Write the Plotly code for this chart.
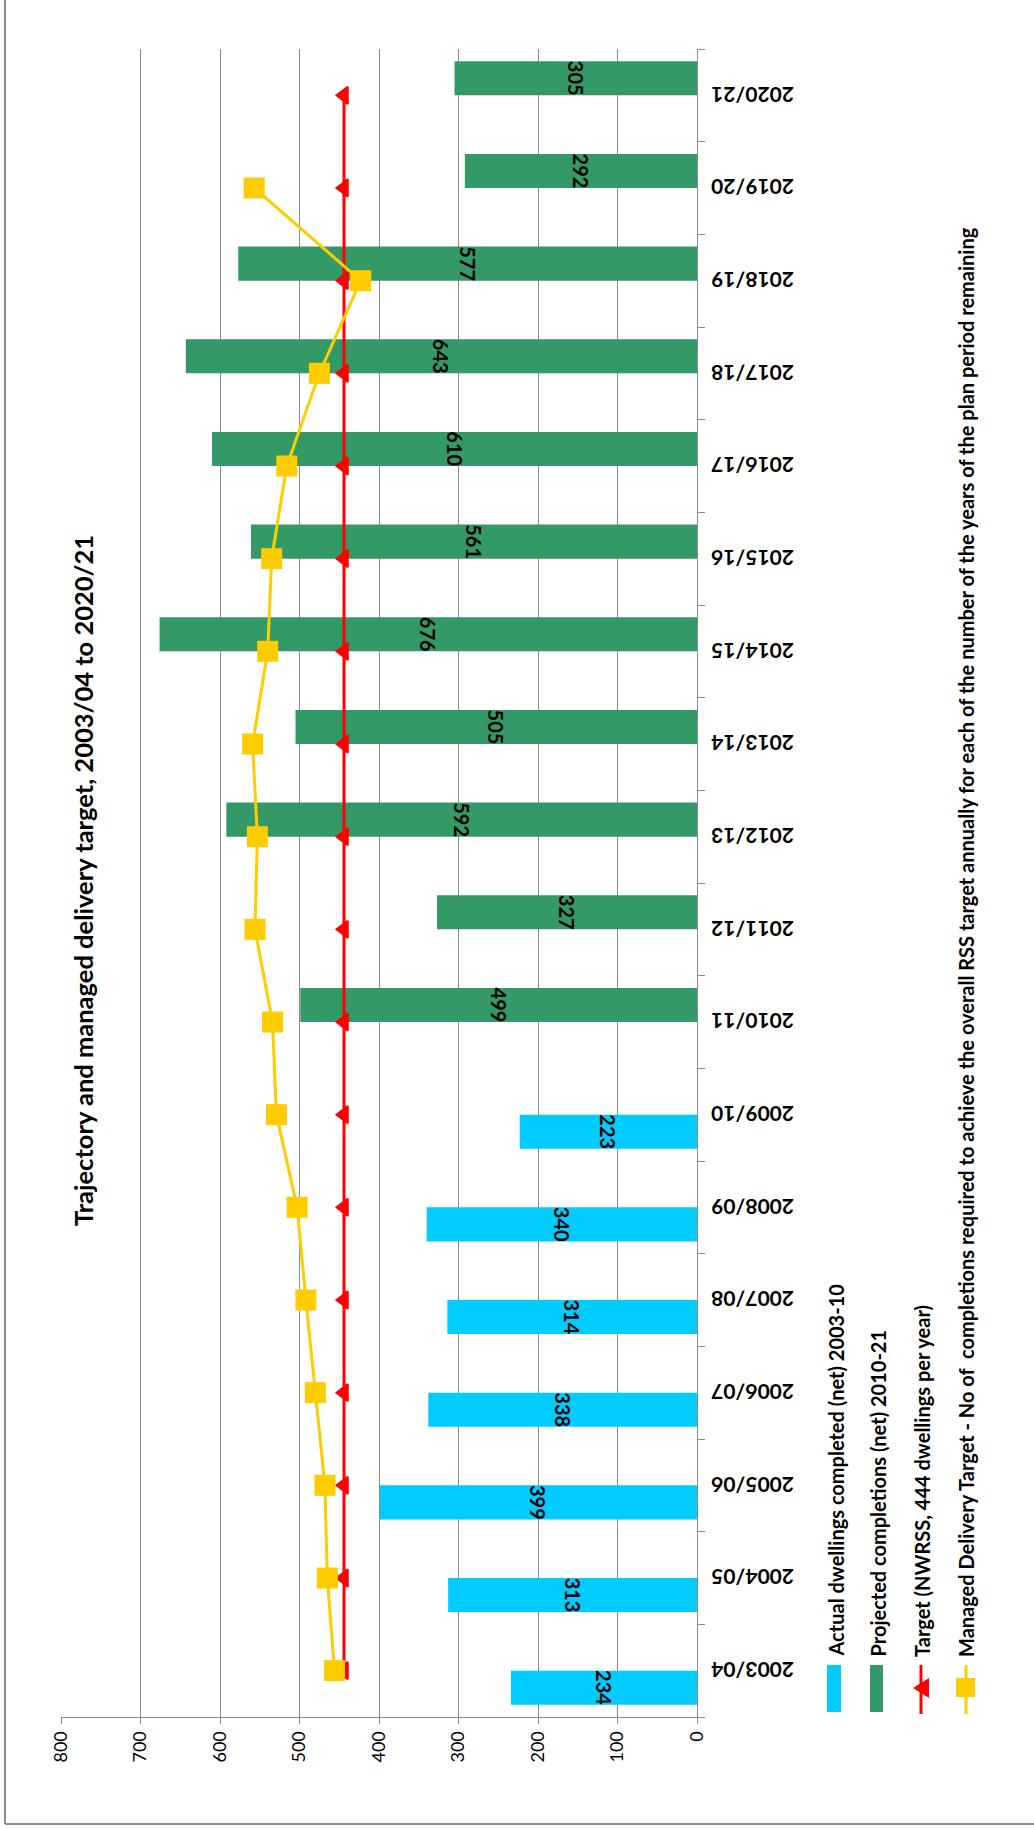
import plotly.graph_objects as go

# ---------------- data ----------------
categories = ["2003/04", "2004/05", "2005/06", "2006/07", "2007/08", "2008/09",
              "2009/10", "2010/11", "2011/12", "2012/13", "2013/14", "2014/15",
              "2015/16", "2016/17", "2017/18", "2018/19", "2019/20", "2020/21"]
actual = [234, 313, 399, 338, 314, 340, 223,
          None, None, None, None, None, None, None, None, None, None, None]
projected = [None, None, None, None, None, None, None,
             499, 327, 592, 505, 676, 561, 610, 643, 577, 292, 305]
target = [444] * 18
managed = [456, 465, 468, 480, 492, 503, 529, 534, 556, 553, 559, 540,
           535, 516, 475, 423, 557, None]
value_ticks = [0, 100, 200, 300, 400, 500, 600, 700, 800]

title_text = "Trajectory and managed delivery target, 2003/04 to 2020/21"
legend_labels = [
    "Actual dwellings completed (net) 2003-10",
    "Projected completions (net) 2010-21",
    "Target (NWRSS, 444 dwellings per year)",
    "Managed Delivery Target - No of  completions required to achieve the overall RSS target annually for each of the number of the years of the plan period remaining",
]

# ---------------- style ----------------
W, H = 1034, 1829
L, R, T, B = 61, 337, 49, 112
PW, PH = W - L - R, H - T - B
FONT = "Lato, 'Open Sans', sans-serif"
BLUE, GREEN, RED, YELLOW = "#00CCFF", "#339966", "#FF0000", "#FFCC00"
GRID = "#8c8c8c"


def px(x):
    return (x - L) / PW


def py(y):
    return (H - B - y) / PH


def txt(v):
    return ["" if a is None else str(a) for a in v]


fig = go.Figure()
fig.add_trace(go.Bar(
    y=categories, x=actual, orientation="h", name=legend_labels[0],
    marker=dict(color=BLUE, line=dict(width=0)),
    text=txt(actual), textposition="inside", insidetextanchor="middle",
    textangle=90, constraintext="none",
    textfont=dict(family=FONT, size=20, color="black", weight="bold"),
))
fig.add_trace(go.Bar(
    y=categories, x=projected, orientation="h", name=legend_labels[1],
    marker=dict(color=GREEN, line=dict(width=0)),
    text=txt(projected), textposition="inside", insidetextanchor="middle",
    textangle=90, constraintext="none",
    textfont=dict(family=FONT, size=20, color="black", weight="bold"),
))
fig.add_trace(go.Scatter(
    y=categories, x=target, mode="lines+markers", name=legend_labels[2],
    line=dict(color=RED, width=3),
    marker=dict(symbol="triangle-left", size=15, color=RED,
                line=dict(color=RED, width=2)),
))
fig.add_trace(go.Scatter(
    y=categories, x=managed, mode="lines+markers", name=legend_labels[3],
    line=dict(color=YELLOW, width=3),
    marker=dict(symbol="square", size=21, color=YELLOW),
))

shapes = []
annotations = []

# category labels, upside down beside the category axis
for c in categories:
    annotations.append(dict(
        text=c, xref="paper", yref="y", x=px(753), y=c,
        xanchor="center", yanchor="middle", textangle=180, showarrow=False,
        font=dict(family=FONT, size=21, color="black", weight="bold"),
    ))

# ---------------- rotated legend (drawn by hand) ----------------
sw_top, sw_bot = 1665, 1712
shapes.append(dict(type="rect", xref="paper", yref="paper",
                   x0=px(827), x1=px(841), y0=py(sw_bot), y1=py(sw_top),
                   fillcolor=BLUE, line=dict(width=0)))
shapes.append(dict(type="rect", xref="paper", yref="paper",
                   x0=px(870), x1=px(883), y0=py(sw_bot), y1=py(sw_top),
                   fillcolor=GREEN, line=dict(width=0)))
shapes.append(dict(type="line", xref="paper", yref="paper",
                   x0=px(921), x1=px(921), y0=py(1714), y1=py(1665),
                   line=dict(color=RED, width=3)))
tri = "M {},{} L {},{} L {},{} Z".format(px(913), py(1688), px(929), py(1678), px(929), py(1698))
shapes.append(dict(type="path", xref="paper", yref="paper", path=tri,
                   fillcolor=RED, line=dict(width=0)))
shapes.append(dict(type="line", xref="paper", yref="paper",
                   x0=px(966), x1=px(966), y0=py(1714), y1=py(1665),
                   line=dict(color=YELLOW, width=3)))
shapes.append(dict(type="rect", xref="paper", yref="paper",
                   x0=px(956), x1=px(975), y0=py(1697), y1=py(1678),
                   fillcolor=YELLOW, line=dict(width=0)))

for label, cx in zip(legend_labels, [835, 877, 922, 966]):
    annotations.append(dict(
        text=label, xref="paper", yref="paper", x=px(cx), y=py(1659),
        xanchor="center", yanchor="bottom", textangle=-90, showarrow=False,
        font=dict(family=FONT, size=20, color="black", weight="bold"),
    ))

annotations.append(dict(
    text=title_text, xref="paper", yref="paper", x=px(83), y=py(881),
    xanchor="center", yanchor="middle", textangle=-90, showarrow=False,
    font=dict(family=FONT, size=25.5, color="black", weight="bold"),
))

# chart frame (left and bottom edges visible)
shapes.append(dict(type="line", xref="paper", yref="paper",
                   x0=px(5), x1=px(5), y0=py(1824), y1=py(-5),
                   line=dict(color=GRID, width=2)))
shapes.append(dict(type="line", xref="paper", yref="paper",
                   x0=px(5), x1=px(1040), y0=py(1824), y1=py(1824),
                   line=dict(color=GRID, width=2)))

fig.update_layout(
    width=W, height=H,
    margin=dict(l=L, r=R, t=T, b=B, pad=0),
    paper_bgcolor="white", plot_bgcolor="white",
    showlegend=False,
    barmode="group", bargap=0.264, bargroupgap=0,
    shapes=shapes, annotations=annotations,
    xaxis=dict(
        range=[800, 0], tickvals=value_ticks, tickangle=-90,
        showgrid=True, gridcolor=GRID, gridwidth=1, zeroline=False,
        showline=True, linecolor=GRID, linewidth=1,
        ticks="outside", ticklen=6, tickcolor=GRID,
        tickfont=dict(family=FONT, size=18, color="black"),
    ),
    yaxis=dict(
        type="category", categoryorder="array", categoryarray=categories,
        range=[-0.5, 17.5], side="right", showticklabels=False,
        ticks="outside", tickson="boundaries", ticklen=7, tickcolor=GRID,
        showline=True, linecolor=GRID, linewidth=1, showgrid=False,
    ),
)

fig.write_html("out.html")
